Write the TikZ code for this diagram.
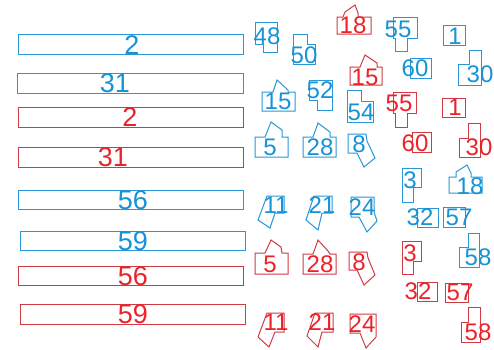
\documentclass[tikz,border=0pt]{standalone}
\usepackage{fontspec}
\newfontfamily\numf{Liberation Sans}
\definecolor{btxt}{RGB}{22,146,214}
\definecolor{bline}{RGB}{40,150,215}
\definecolor{rtxt}{RGB}{236,34,40}
\definecolor{rline}{RGB}{208,58,68}
\newcommand\bigfnt{\numf\fontsize{27}{27}\selectfont}
\newcommand\smfnt{\numf\fontsize{24}{24}\selectfont}
\tikzset{
  bo/.style={draw=bline, line width=1pt, line join=miter},
  ro/.style={draw=rline, line width=1pt, line join=miter},
  bb/.style={text=btxt, font=\bigfnt, inner sep=0pt},
  rb/.style={text=rtxt, font=\bigfnt, inner sep=0pt},
  bs/.style={text=btxt, font=\smfnt, inner sep=0pt},
  rs/.style={text=rtxt, font=\smfnt, inner sep=0pt},
}
\begin{document}
\begin{tikzpicture}[x=1pt,y=-1pt]
\useasboundingbox (0,0) rectangle (494,349);
% bars
\draw[bo] (18,34) rectangle (243,54);   \node[bb] (t1) at (132,45) {2};
\draw[bo] (17,73) rectangle (243,93);   \node[bb] (t2) at (115,83) {31};
\draw[ro] (18,107) rectangle (243,127); \node[rb] (t3) at (130,117) {2};
\draw[ro] (18,147) rectangle (243,167); \node[rb] (t4) at (113,157) {31};
\draw[bo] (18,190) rectangle (243,209); \node[bb] (t5) at (133,200) {56};
\draw[bo] (20,231) rectangle (245,250); \node[bb] (t6) at (133,241) {59};
\draw[ro] (18,266) rectangle (243,285); \node[rb] (t7) at (133,276) {56};
\draw[ro] (20,304) rectangle (245,324); \node[rb] (t8) at (133,314) {59};
% blue pieces
\draw[bo] (255,22)--(277,22)--(277,52)--(263,52)--(263,44)--(255,44)--cycle; \node[bs] (p48) at (267,36) {48};
\draw[bo] (293,34)--(307,34)--(307,44)--(315,44)--(315,64)--(293,64)--cycle; \node[bs] (p50) at (304,55) {50};
\draw[bo] (393,17)--(417,17)--(417,38)--(407,38)--(407,51)--(395,51)--(395,38)--(393,38)--cycle; \node[bs] (p55) at (398,29) {55};
\draw[bo] (443,25) rectangle (465,45); \node[bs] (p1) at (455,36) {1};
\draw[bo] (469,50)--(481,50)--(481,85)--(458,85)--(458,64)--(469,64)--cycle; \node[bs] (p30) at (480,74) {30};
\draw[bo] (410,58) rectangle (431,78); \node[bs] (p60) at (415,68) {60};
\draw[bo] (262,92)--(273,92)--(277,80)--(288,90)--(288,92)--(295,92)--(295,111)--(262,111)--cycle; \node[bs] (p15) at (278,101) {15};
\draw[bo] (309,80)--(332,80)--(332,110)--(317,110)--(317,100)--(309,100)--cycle; \node[bs] (p52) at (320,90) {52};
\draw[bo] (347,90)--(361,90)--(361,101)--(373,101)--(373,122)--(347,122)--cycle; \node[bs] (p54) at (361,112) {54};
\draw[bo] (255,137)--(265,137)--(271,122)--(282,130)--(282,137)--(288,137)--(288,157)--(255,157)--cycle; \node[bs] (p5) at (270,147) {5};
\draw[bo] (303,137)--(313,137)--(318,123)--(330,132)--(330,137)--(336,137)--(336,157)--(303,157)--cycle; \node[bs] (p28) at (320,147) {28};
\draw[bo] (348,134)--(366,134)--(367,141)--(375,158)--(364,167)--(357,153)--(348,153)--cycle; \node[bs] (p8) at (359,144) {8};
\draw[bo] (402,168)--(421,168)--(421,187)--(413,187)--(413,202)--(402,202)--cycle; \node[bs] (p3) at (410,180) {3};
\draw[bo] (449,177)--(456,177)--(456,172)--(467,165)--(471,173)--(471,177)--(482,177)--(482,193)--(449,193)--cycle; \node[bs] (p18) at (470,186) {18};
\draw[bo] (267,196)--(284,196)--(284,213)--(275,213)--(270,228)--(258,220)--cycle; \node[bs] (p11) at (276,205) {11};
\draw[bo] (314,196)--(332,196)--(332,213)--(322,213)--(318,230)--(306,220)--cycle; \node[bs] (p21) at (322,205) {21};
\draw[bo] (351,197)--(374,197)--(374,212)--(377,221)--(367,232)--(359,217)--(351,217)--cycle; \node[bs] (p24) at (362,207) {24};
\draw[bo] (417,208) rectangle (438,227); \node[bs] (p32) at (420,217) {32};
\draw[bo] (443,207) rectangle (465,227); \node[bs] (p57) at (459,217) {57};
\draw[bo] (468,233)--(479,233)--(479,267)--(459,267)--(459,247)--(468,247)--cycle; \node[bs] (p58) at (478,257) {58};
% red pieces
\draw[ro] (337,17)--(343,17)--(345,12)--(355,5)--(358,13)--(358,17)--(371,17)--(371,34)--(337,34)--cycle; \node[rs] (q18) at (353,25) {18};
\draw[ro] (350,67)--(360,67)--(365,55)--(377,63)--(377,67)--(382,67)--(382,85)--(350,85)--cycle; \node[rs] (q15) at (365,77) {15};
\draw[ro] (393,92)--(416,92)--(416,113)--(407,113)--(407,127)--(395,127)--(395,113)--(393,113)--cycle; \node[rs] (q55) at (399,103) {55};
\draw[ro] (442,98) rectangle (465,117); \node[rs] (q1) at (455,107) {1};
\draw[ro] (412,132) rectangle (431,152); \node[rs] (q60) at (415,143) {60};
\draw[ro] (468,123)--(480,123)--(480,157)--(459,157)--(459,138)--(468,138)--cycle; \node[rs] (q30) at (479,147) {30};
\draw[ro] (255,253)--(265,253)--(271,240)--(281,247)--(282,253)--(288,253)--(288,274)--(255,274)--cycle; \node[rs] (q5) at (270,264) {5};
\draw[ro] (303,254)--(313,254)--(318,240)--(328,251)--(330,254)--(336,254)--(336,274)--(303,274)--cycle; \node[rs] (q28) at (320,264) {28};
\draw[ro] (349,252)--(367,252)--(368,258)--(375,275)--(364,285)--(357,270)--(349,270)--cycle; \node[rs] (q8) at (359,262) {8};
\draw[ro] (402,241)--(421,241)--(421,261)--(413,261)--(413,274)--(402,274)--cycle; \node[rs] (q3) at (410,253) {3};
\draw[ro] (417,282) rectangle (437,301); \node[rs] (q32) at (418,291) {32};
\draw[ro] (445,283) rectangle (468,302); \node[rs] (q57) at (460,292) {57};
\draw[ro] (468,307)--(480,307)--(480,342)--(461,342)--(461,322)--(468,322)--cycle; \node[rs] (q58) at (478,332) {58};
\draw[ro] (267,313)--(284,313)--(284,332)--(275,332)--(269,347)--(258,337)--cycle; \node[rs] (q11) at (276,322) {11};
\draw[ro] (315,313)--(333,313)--(333,332)--(322,332)--(318,347)--(307,336)--cycle; \node[rs] (q21) at (322,322) {21};
\draw[ro] (350,314)--(376,314)--(376,337)--(366,348)--(360,333)--(350,333)--cycle; \node[rs] (q24) at (362,324) {24};
\end{tikzpicture}
\end{document}
